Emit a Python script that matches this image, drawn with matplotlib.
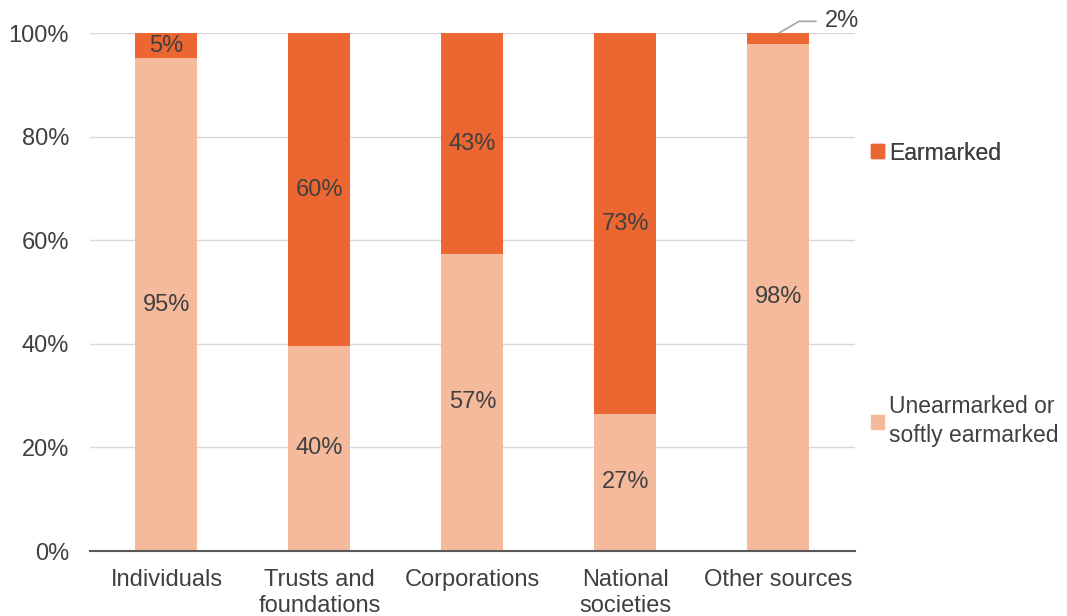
import matplotlib.pyplot as plt
from matplotlib.patches import Patch
import numpy as np

plt.rcParams['font.family'] = ['Liberation Sans', 'DejaVu Sans']

categories = ["Individuals", "Trusts and\nfoundations", "Corporations", "National\nsocieties", "Other sources"]
unearmarked = [95.2, 39.6, 57.4, 26.5, 98.0]
earmarked = [4.8, 60.4, 42.6, 73.5, 2.0]
unearmarked_labels = ["95%", "40%", "57%", "27%", "98%"]
earmarked_labels = ["5%", "60%", "43%", "73%", "2%"]

DARK = "#EB6630"
PALE = "#F5B99C"
TEXT = "#404040"
FS = 17

fig = plt.figure(figsize=(10.67, 6.16), dpi=100)
ax = fig.add_axes([0.0843, 0.1055, 0.717, 0.8405])

x = np.arange(len(categories))
w = 0.405
ax.bar(x, unearmarked, w, color=PALE, zorder=3)
ax.bar(x, earmarked, w, bottom=unearmarked, color=DARK, zorder=3)

for i in range(len(categories)):
    ax.text(x[i], unearmarked[i] / 2, unearmarked_labels[i], ha="center", va="center",
            fontsize=FS, color=TEXT, zorder=4)
    if earmarked[i] >= 4:
        ax.text(x[i], unearmarked[i] + earmarked[i] / 2, earmarked_labels[i], ha="center",
                va="center", fontsize=FS, color=TEXT, zorder=4)
    else:
        # small segment gets a callout
        ax.annotate(earmarked_labels[i], xy=(x[i], 100), xytext=(x[i] + 0.3, 102.3),
                    fontsize=FS, color=TEXT, va="center", ha="left", annotation_clip=False,
                    arrowprops=dict(arrowstyle="-", color="#A6A6A6", lw=1.2,
                                    connectionstyle="angle,angleA=0,angleB=30,rad=0",
                                    shrinkA=4, shrinkB=0))

ax.set_xlim(-0.5, len(categories) - 0.5)
ax.set_ylim(0, 100)
ax.set_yticks(range(0, 101, 20))
ax.set_yticklabels([f"{v}%" for v in range(0, 101, 20)])
ax.set_xticks(x)
ax.set_xticklabels(categories, linespacing=1.25)
ax.tick_params(axis="both", length=0, labelsize=FS, labelcolor=TEXT)
ax.tick_params(axis="y", pad=15)
ax.tick_params(axis="x", pad=13)
ax.yaxis.grid(True, color="#D9D9D9", lw=1, zorder=0)
for s in ["top", "right", "left"]:
    ax.spines[s].set_visible(False)
ax.spines["bottom"].set_color("#595959")
ax.spines["bottom"].set_linewidth(1.5)
ax.spines["bottom"].set_zorder(5)

leg_kw = dict(loc="center left", frameon=False, fontsize=16.5, handlelength=0.55,
              handleheight=0.55, handletextpad=0.25, labelcolor=TEXT, borderpad=0,
              borderaxespad=0)
leg1 = fig.legend(handles=[Patch(color=DARK)], labels=["Earmarked"],
                  bbox_to_anchor=(871 / 1067, 1 - 153 / 616), **leg_kw)
leg2 = fig.legend(handles=[Patch(color=PALE)], labels=["Unearmarked or\nsoftly earmarked"],
                  bbox_to_anchor=(871 / 1067, 1 - 421 / 616), **leg_kw)
for t in leg2.get_texts():
    t.set_linespacing(1.3)
fig.add_artist(leg1)

fig.savefig("out.png", dpi=100)
